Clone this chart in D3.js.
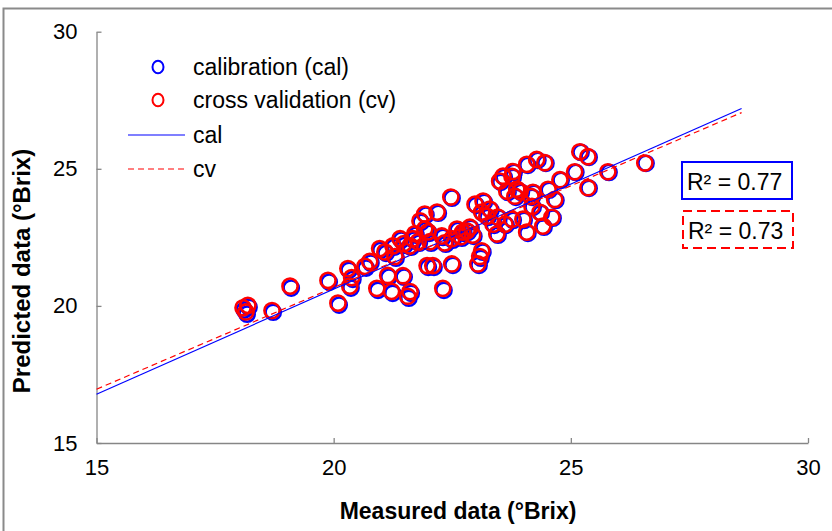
<!DOCTYPE html>
<html>
<head>
<meta charset="utf-8">
<script src="https://cdn.jsdelivr.net/npm/d3@7"></script>
<style>
  body { margin: 0; background: #fff; }
  svg text { font-family: "Liberation Sans", Arial, sans-serif; fill: #000; }
</style>
</head>
<body>
<div id="chart"></div>
<script>
// measured Brix values (x) and predictions for calibration / cross validation
const measured = [18.09, 18.19, 18.15, 18.70, 19.08, 19.88, 20.09, 20.30, 20.34, 20.38,
  20.76, 21.08, 21.25, 20.97, 21.14, 20.91, 21.22, 21.46, 21.61, 21.56,
  21.61, 21.71, 21.82, 21.92, 21.99, 21.97, 21.67, 21.92, 22.03, 22.09,
  22.18, 22.28, 22.49, 22.30, 22.47, 22.60, 22.49, 22.72, 22.87, 22.98,
  23.15, 23.12, 23.08, 23.12, 23.23, 23.29, 23.36, 23.46, 23.50, 23.65,
  23.76, 23.82, 23.76, 23.93, 23.99, 24.07, 24.18, 24.07, 24.28, 24.45,
  24.20, 24.41, 24.35, 24.60, 24.66, 24.77, 25.08, 25.36, 25.19, 25.36,
  25.78, 26.56, 23.04, 23.57, 23.78, 23.86, 24.16, 21.40, 20.66, 21.29,
  22.68, 22.81, 22.93, 22.34, 21.48, 21.78, 23.44, 23.61, 24.52];

const predCal = [19.85, 19.95, 19.70, 19.77, 20.65, 20.87, 20.03, 21.30, 20.65, 20.97,
  21.56, 21.92, 22.14, 22.03, 21.05, 20.57, 20.46, 21.05, 20.46, 20.28,
  22.14, 22.58, 23.05, 23.31, 22.65, 21.41, 22.40, 22.76, 22.29, 21.41,
  23.38, 22.50, 21.48, 20.57, 23.93, 22.76, 22.40, 22.65, 22.83, 23.67,
  23.78, 21.96, 21.74, 23.38, 23.23, 23.49, 22.94, 23.20, 24.51, 24.14,
  24.69, 23.96, 23.12, 24.14, 23.12, 22.65, 23.60, 25.13, 25.31, 25.20,
  24.11, 22.87, 23.38, 23.20, 23.85, 24.58, 24.87, 24.29, 25.60, 25.42,
  24.87, 25.20, 21.48, 24.69, 24.87, 24.22, 23.96, 22.40, 21.38, 21.74,
  22.47, 22.69, 22.54, 22.25, 22.21, 22.29, 22.58, 22.94, 24.22];

const predCv = [19.93, 20.02, 19.78, 19.83, 20.72, 20.93, 20.10, 21.36, 20.72, 21.03,
  21.62, 21.97, 22.19, 22.09, 21.11, 20.64, 20.53, 21.10, 20.52, 20.35,
  22.19, 22.63, 23.10, 23.35, 22.70, 21.47, 22.45, 22.80, 22.34, 21.47,
  23.42, 22.55, 21.53, 20.64, 23.97, 22.80, 22.45, 22.69, 22.87, 23.71,
  23.82, 22.01, 21.80, 23.42, 23.27, 23.53, 22.98, 23.24, 24.55, 24.18,
  24.72, 24.00, 23.16, 24.17, 23.16, 22.69, 23.63, 25.16, 25.34, 25.22,
  24.14, 22.91, 23.41, 23.23, 23.88, 24.60, 24.89, 24.31, 25.62, 25.44,
  24.89, 25.21, 21.53, 24.73, 24.90, 24.26, 23.99, 22.45, 21.44, 21.80,
  22.52, 22.73, 22.58, 22.30, 22.27, 22.34, 22.62, 22.98, 24.25];

// fitted lines, endpoints in data units
const calLine = [[15, 16.78], [28.6, 27.2]];
const cvLine = [[15, 16.96], [28.6, 27.05]];

const xTicks = [15, 20, 25, 30];
const yTicks = [15, 20, 25, 30];
const r2Labels = ["R\u00b2 = 0.77", "R\u00b2 = 0.73"];
const legendLabels = ["calibration (cal)", "cross validation (cv)", "cal", "cv"];

const W = 832, H = 531;
const svg = d3.select('#chart').append('svg')
    .attr('width', W)
    .attr('height', H);

// outer frame
svg.append('rect')
    .attr('x', 3.5).attr('y', 8.5)
    .attr('width', 860).attr('height', 560)
    .attr('fill', 'none')
    .attr('stroke', '#8a8a8a')
    .attr('stroke-width', 2);

const x = d3.scaleLinear().domain([15, 30]).range([96.5, 808]);
const y = d3.scaleLinear().domain([15, 30]).range([443, 31.7]);

const xAxis = svg.append('g')
    .attr('transform', `translate(0,${y(15)})`)
    .call(d3.axisBottom(x).tickValues(xTicks).tickSizeInner(-5).tickSizeOuter(0).tickPadding(16));
const yAxis = svg.append('g')
    .attr('transform', `translate(${x(15)},0)`)
    .call(d3.axisLeft(y).tickValues(yTicks).tickSizeInner(-5).tickSizeOuter(0).tickPadding(19));

[xAxis, yAxis].forEach(g => {
    g.selectAll('path, line').attr('stroke', '#868686').attr('stroke-width', 1.3);
    g.selectAll('text')
        .style('font-family', '"Liberation Sans", Arial, sans-serif')
        .style('font-size', '22px')
        .attr('fill', '#000');
});

// axis titles
svg.append('text')
    .attr('x', 458).attr('y', 519)
    .attr('text-anchor', 'middle')
    .style('font-size', '23px').style('font-weight', 'bold')
    .text('Measured data (\u00b0Brix)');
svg.append('text')
    .attr('transform', 'translate(30,271) rotate(-90)')
    .attr('text-anchor', 'middle')
    .style('font-size', '24px').style('font-weight', 'bold')
    .text('Predicted data (\u00b0Brix)');

const pts = measured.map((m, i) => ({ m, cal: predCal[i], cv: predCv[i] }));

svg.selectAll('.cal')
    .data(pts)
    .enter().append('circle')
    .attr('class', 'cal')
    .attr('cx', d => x(d.m) + 1.2)
    .attr('cy', d => y(d.cal))
    .attr('r', 7.6)
    .attr('fill', 'none')
    .attr('stroke', '#0000ff')
    .attr('stroke-width', 2.6);

svg.selectAll('.cv')
    .data(pts)
    .enter().append('circle')
    .attr('class', 'cv')
    .attr('cx', d => x(d.m))
    .attr('cy', d => y(d.cv))
    .attr('r', 7.6)
    .attr('fill', 'none')
    .attr('stroke', '#ff0000')
    .attr('stroke-width', 2.6);

const line = d3.line().x(d => x(d[0])).y(d => y(d[1]));
svg.append('path')
    .attr('d', line(calLine))
    .attr('fill', 'none')
    .attr('stroke', '#0000ff')
    .attr('stroke-width', 1.2);
svg.append('path')
    .attr('d', line(cvLine))
    .attr('fill', 'none')
    .attr('stroke', '#ff0000')
    .attr('stroke-width', 1.2)
    .attr('stroke-dasharray', '6,4');

// legend
const leg = svg.append('g');
leg.append('ellipse').attr('cx', 158).attr('cy', 67).attr('rx', 5.5).attr('ry', 6.3)
    .attr('fill', 'none').attr('stroke', '#0000ff').attr('stroke-width', 2);
leg.append('ellipse').attr('cx', 158).attr('cy', 100).attr('rx', 5.5).attr('ry', 6.3)
    .attr('fill', 'none').attr('stroke', '#ff0000').attr('stroke-width', 2);
leg.append('line').attr('x1', 128).attr('x2', 185).attr('y1', 135).attr('y2', 135)
    .attr('stroke', '#0000ff').attr('stroke-width', 1.2);
leg.append('line').attr('x1', 128).attr('x2', 185).attr('y1', 169).attr('y2', 169)
    .attr('stroke', '#ff0000').attr('stroke-width', 1.2).attr('stroke-dasharray', '6,4');
const legY = [75, 108, 143, 177];
legendLabels.forEach((t, i) => {
    leg.append('text')
        .attr('x', 193).attr('y', legY[i])
        .style('font-size', '23px')
        .text(t);
});

// R² boxes
svg.append('rect').attr('x', 682).attr('y', 162).attr('width', 110).attr('height', 37)
    .attr('fill', '#fff').attr('stroke', '#0000ff').attr('stroke-width', 2);
svg.append('rect').attr('x', 683).attr('y', 211).attr('width', 110).attr('height', 37)
    .attr('fill', '#fff').attr('stroke', '#ff0000').attr('stroke-width', 2)
    .attr('stroke-dasharray', '9,5');
svg.append('text').attr('x', 687).attr('y', 190).style('font-size', '23px').text(r2Labels[0]);
svg.append('text').attr('x', 688).attr('y', 239).style('font-size', '23px').text(r2Labels[1]);
</script>
</body>
</html>
